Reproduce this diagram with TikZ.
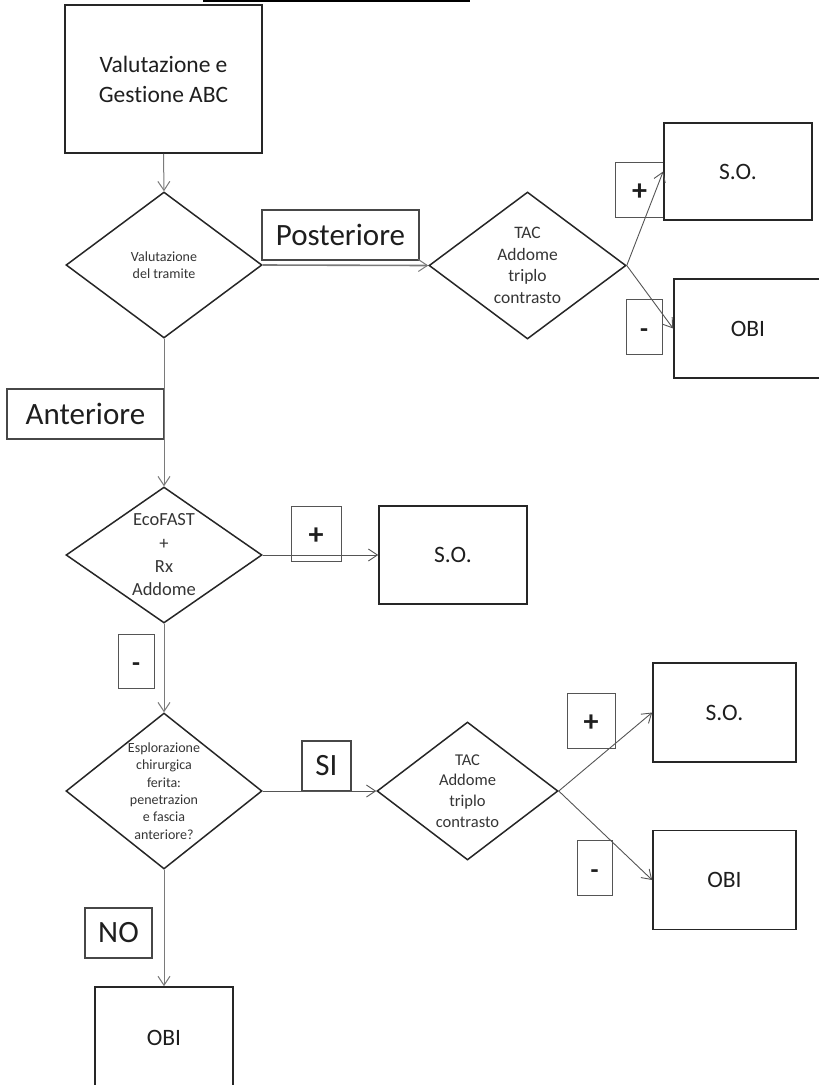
\documentclass[tikz,border=0pt]{standalone}
\usepackage{fontspec}
\setmainfont{Carlito}[Ligatures={NoCommon,NoRequired,NoContextual,NoRare,NoDiscretionary}]
\usetikzlibrary{shapes.geometric,arrows.meta}
\definecolor{ink}{HTML}{1E1E1E}
\definecolor{edge}{HTML}{262626}
\definecolor{wire}{HTML}{7A7A7A}
\definecolor{wiredark}{HTML}{555555}
% signs placed with their baseline on the box centre, then lowered
\newcommand{\plussign}{\smash{\raisebox{-11pt}{\fontsize{30}{30}\selectfont +}}}
\newcommand{\minussign}{\smash{\raisebox{-10.5pt}{-}}}
\tikzset{
  fs/.style 2 args={font=\fontsize{#1}{#2}\selectfont},
  mainbox/.style={draw=edge, line width=1.7pt, rectangle, inner sep=0pt, text=ink, fs={23.5}{30}, align=center},
  tagbox/.style={draw=edge!85, line width=1.1pt, rectangle, inner sep=0pt, text=ink, fs={31}{36}},
  signbox/.style={draw=wiredark, line width=1pt, rectangle, inner sep=0pt, text=ink, font=\fontsize{26}{30}\selectfont\bfseries},
  choice/.style={draw=edge, line width=1.5pt, diamond, inner sep=0pt},
  choicetext/.style={text=ink!90, align=center, inner sep=0pt},
  flow/.style={draw=wire, line width=1pt, -{Straight Barb[length=9pt,width=12pt,line width=1pt]}},
  flowdark/.style={draw=wiredark, line width=0.9pt, -{Straight Barb[length=9pt,width=12pt,line width=0.9pt]}},
}
\begin{document}
\begin{tikzpicture}[x=1pt,y=-1pt]
\useasboundingbox (0,0) rectangle (819,1085);
\clip (0,0) rectangle (819,1085);

% rule along the top edge
\coordinate (ruleL) at (203,1);
\coordinate (ruleR) at (470,1);
\draw[black, line width=2pt] (ruleL) -- (ruleR);

% start
\node[mainbox, minimum width=197pt, minimum height=148pt] (abc) at (163.5,79) {Valutazione e\\Gestione ABC};

% first decision: wound track
\node[choice, minimum width=196pt, minimum height=146pt] (d1) at (164,265) {};
\node[choicetext, fs={14}{17.6}] (d1t) at (d1.center) {Valutazione\\del tramite};

\node[tagbox, minimum width=157pt, minimum height=50pt] (post) at (340.5,235) {Posteriore};

% posterior branch: CT
\node[choice, minimum width=197pt, minimum height=147pt] (d2) at (527.5,265.5) {};
\node[choicetext, fs={17.5}{21.7}] (d2t) at (d2.center) {TAC\\Addome\\triplo\\contrasto};

\node[signbox, minimum width=49pt, minimum height=55pt] (plus1) at (639.5,189.5) {\plussign};
\node[mainbox, minimum width=148pt, minimum height=97pt] (so1) at (738,171.5) {S.O.};
\node[signbox, minimum width=36pt, minimum height=55pt] (minus1) at (644,326.5) {\minussign};
\node[mainbox, minimum width=148pt, minimum height=99pt] (obi1) at (748,328.5) {OBI};

% anterior branch
\node[tagbox, minimum width=157pt, minimum height=50pt] (ant) at (85.5,414) {Anteriore};

\node[choice, minimum width=196pt, minimum height=136pt] (d3) at (164,555) {};
\node[choicetext, fs={18.5}{23.3}] (d3t) at (d3.center) {EcoFAST\\+\\Rx\\Addome};

\node[signbox, minimum width=50pt, minimum height=55pt] (plus2) at (316,533.5) {\plussign};
\node[mainbox, minimum width=148pt, minimum height=98pt] (so2) at (453,555) {S.O.};
\node[signbox, minimum width=36pt, minimum height=54pt] (minus2) at (136,661) {\minussign};

\node[choice, minimum width=196pt, minimum height=156pt] (d4) at (164,791) {};
\node[choicetext, fs={14}{17.3}] (d4t) at (d4.center) {Esplorazione\\chirurgica\\ferita:\\penetrazion\\e fascia\\anteriore?};

\node[tagbox, minimum width=49pt, minimum height=50pt] (si) at (326.5,766) {SI};

\node[choice, minimum width=181pt, minimum height=138pt] (d5) at (467.5,791) {};
\node[choicetext, fs={16.5}{20.7}] (d5t) at (d5.center) {TAC\\Addome\\triplo\\contrasto};

\node[signbox, minimum width=48pt, minimum height=55pt] (plus3) at (591,720.5) {\plussign};
\node[mainbox, minimum width=143pt, minimum height=99pt] (so3) at (724.5,712.5) {S.O.};
\node[signbox, minimum width=35pt, minimum height=55pt] (minus3) at (594.5,867.5) {\minussign};
\node[mainbox, minimum width=143pt, minimum height=99pt] (obi2) at (724.5,880) {OBI};

\node[tagbox, minimum width=67pt, minimum height=50pt] (no) at (118.5,933) {NO};
\node[mainbox, minimum width=138pt, minimum height=102pt] (obi3) at (164,1038) {OBI};

% connectors
\draw[flow] (abc.south) -- (d1.north);
\draw[flow, line width=1.6pt] (d1.east) -- (d2.west);
\draw[flowdark] (d2.east) -- (so1.west);
\draw[flowdark] (d2.east) -- (obi1.west);
\draw[flow] (d1.south) -- (d3.north);
\draw[flowdark] (d3.east) -- (so2.west);
\draw[flow] (d3.south) -- (d4.north);
\draw[flowdark] (d4.east) -- (d5.west);
\draw[flowdark] (d5.east) -- (so3.west);
\draw[flowdark] (d5.east) -- (obi2.west);
\draw[flow] (d4.south) -- (obi3.north);
\end{tikzpicture}
\end{document}
